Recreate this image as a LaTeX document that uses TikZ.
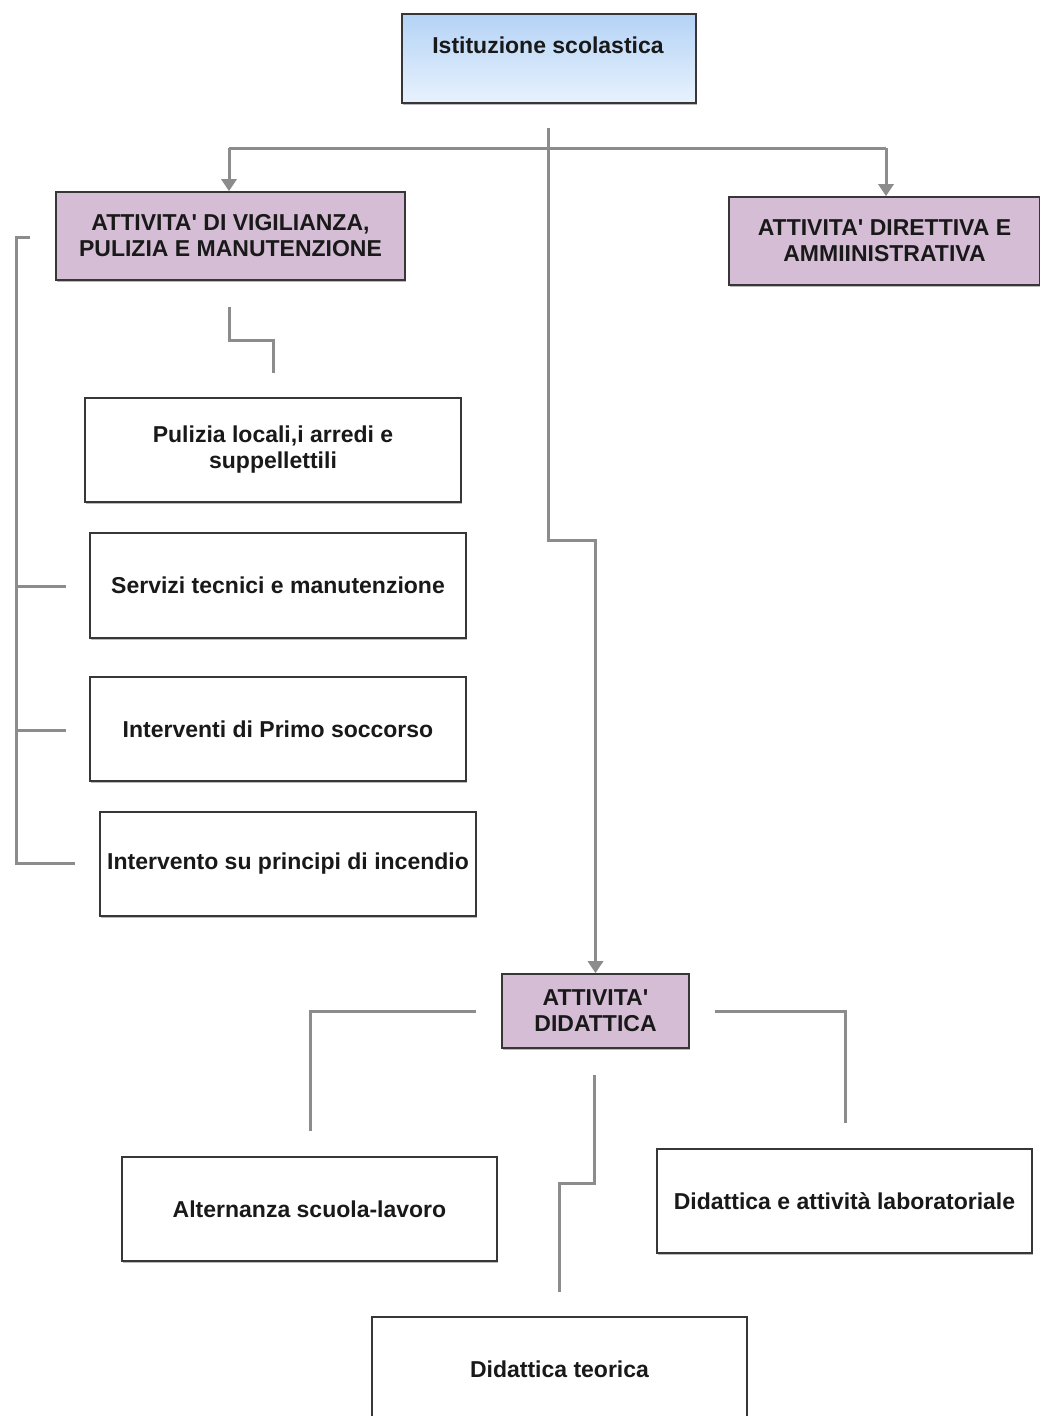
\documentclass[tikz,border=0pt]{standalone}
\usepackage{fontspec}
\setmainfont{Liberation Sans}
\usetikzlibrary{arrows.meta,shadows}
\definecolor{conn}{RGB}{140,140,140}
\definecolor{purp}{RGB}{213,190,213}
\definecolor{btop}{RGB}{180,211,246}
\definecolor{bbot}{RGB}{232,242,253}
\definecolor{edgec}{RGB}{55,55,55}
\definecolor{txtc}{RGB}{25,25,25}
\newcommand{\apos}{\textquotesingle}
\begin{document}
\begin{tikzpicture}[x=1pt,y=-1pt,
  box/.style={draw=edgec, line width=1.6pt, inner sep=0pt, align=center,
    fill=white, text=txtc,
    font=\fontsize{23}{26}\selectfont\bfseries,
    drop shadow={shadow xshift=1.2pt, shadow yshift=-1.5pt, fill=black!45, opacity=0.6}},
  pbox/.style={box, fill=purp},
  txt/.style={inner sep=0pt, align=center, text=txtc, font=\fontsize{23}{26}\selectfont\bfseries},
  conn/.style={draw=conn, line width=3pt},
  arr/.style={conn, -{Triangle[width=15pt,length=12pt]}}
]
\useasboundingbox (0,0) rectangle (1040,1416);

% boxes
\node[box, top color=btop, bottom color=bbot, minimum width=294pt, minimum height=89pt] (top) at (549,58.5) {};
\node[txt] (toptxt) at (548,45) {Istituzione scolastica};
\node[pbox, minimum width=349pt, minimum height=88pt] (vig) at (230.5,236) {ATTIVITA\apos{} DI VIGILIANZA,\\PULIZIA E MANUTENZIONE};
\node[pbox, minimum width=311pt, minimum height=88pt] (dir) at (884.5,241) {ATTIVITA\apos{} DIRETTIVA E\\AMMIINISTRATIVA};
\node[box, minimum width=376pt, minimum height=104pt] (pul) at (273,450) {Pulizia locali,i arredi e\\suppellettili};
\node[box, minimum width=376pt, minimum height=105pt] (ser) at (278,585.5) {Servizi tecnici e manutenzione};
\node[box, minimum width=376pt, minimum height=104pt] (int) at (278,729) {Interventi di Primo soccorso};
\node[box, minimum width=376pt, minimum height=104pt] (inc) at (288,864) {Intervento su principi di incendio};
\node[pbox, minimum width=187pt, minimum height=74pt] (did) at (595.5,1011) {ATTIVITA\apos\\DIDATTICA};
\node[box, minimum width=375pt, minimum height=104pt] (alt) at (309.5,1209) {Alternanza scuola-lavoro};
\node[box, minimum width=375pt, minimum height=104pt] (lab) at (844.5,1201) {Didattica e attività laboratoriale};
\node[box, minimum width=375pt, minimum height=104pt] (teo) at (559.5,1369) {Didattica teorica};

% coordinates
\coordinate (t0) at (548,128);
\coordinate (jm) at (548,148);
\coordinate (jl) at (229,148);
\coordinate (jr) at (886,148);
\coordinate (k1) at (548,540);
\coordinate (v0) at (229,307);
\coordinate (v1) at (273,373);
\coordinate (b0) at (30,237);
\coordinate (b1) at (16,863);
\coordinate (b2) at (75,863);
\coordinate (bs) at (66,586);
\coordinate (bi) at (66,730);
\coordinate (dl0) at (476,1011);
\coordinate (dl1) at (310,1131);
\coordinate (dr0) at (715,1011);
\coordinate (dr1) at (845,1123);
\coordinate (dc0) at (594,1075);
\coordinate (dc1) at (559,1292);

% connectors
\draw[conn] (t0) -- (jm);
\draw[conn] (jl) -- (jr);
\draw[arr] (jl) -- (jl |- vig.north);
\draw[arr] (jr) -- (jr |- dir.north);
\draw[arr] (jm) -- (k1) -| (did.north);
\draw[conn] (v0) -- (229,340) -| (v1);
\draw[conn] (b0) -- (16,237) |- (b2);
\draw[conn] (16,586) -- (bs);
\draw[conn] (16,730) -- (bi);
\draw[conn] (dl0) -| (dl1);
\draw[conn] (dr0) -| (dr1);
\draw[conn] (dc0) -- (594,1183) -| (dc1);
\end{tikzpicture}
\end{document}
